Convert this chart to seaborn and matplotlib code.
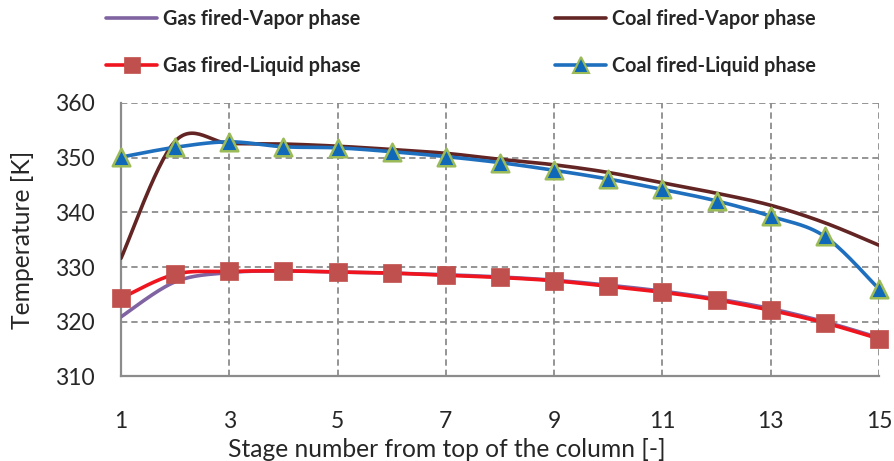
import numpy as np
import pandas as pd
import matplotlib
matplotlib.use("Agg")
import matplotlib.pyplot as plt
from matplotlib.lines import Line2D
import seaborn as sns

# Stage temperature profiles [K]
stages = list(range(1, 16))
gas_vapor = [320.9, 327.3, 329.0, 329.3, 329.1, 328.9, 328.6, 328.2, 327.6, 326.7, 325.6, 324.2, 322.4, 320.0, 317.1]
gas_liquid = [324.3, 328.7, 329.2, 329.3, 329.1, 328.9, 328.5, 328.1, 327.5, 326.5, 325.4, 324.0, 322.1, 319.8, 316.9]
coal_vapor = [331.6, 353.0, 352.6, 352.5, 352.1, 351.5, 350.8, 349.7, 348.7, 347.3, 345.4, 343.5, 341.3, 338.1, 334.0]
coal_liquid = [350.1, 351.9, 352.9, 352.0, 351.8, 351.1, 350.2, 349.1, 347.7, 346.1, 344.2, 342.1, 339.3, 335.6, 326.0]

x_ticks = [1, 3, 5, 7, 9, 11, 13, 15]
y_ticks = [310, 320, 330, 340, 350, 360]

GRID = "#8c8c8c"


def smooth(xs, ys, n=30):
    """Cubic Bezier smoothing through every point (Catmull-Rom style tangents)."""
    xs = np.asarray(xs, float)
    ys = np.asarray(ys, float)
    px = np.concatenate([[xs[0]], xs, [xs[-1]]])
    py = np.concatenate([[ys[0]], ys, [ys[-1]]])
    out_x, out_y = [], []
    t = np.linspace(0, 1, n)
    for i in range(1, len(px) - 2):
        p0 = np.array([px[i], py[i]])
        p3 = np.array([px[i + 1], py[i + 1]])
        c1 = p0 + (np.array([px[i + 1], py[i + 1]]) - np.array([px[i - 1], py[i - 1]])) / 6
        c2 = p3 - (np.array([px[i + 2], py[i + 2]]) - np.array([px[i], py[i]])) / 6
        b = ((1 - t) ** 3)[:, None] * p0 + (3 * (1 - t) ** 2 * t)[:, None] * c1 \
            + (3 * (1 - t) * t ** 2)[:, None] * c2 + (t ** 3)[:, None] * p3
        out_x.extend(b[:, 0])
        out_y.extend(b[:, 1])
    return np.array(out_x), np.array(out_y)


sns.set_style("white")
plt.rcParams["font.family"] = ["Lato", "DejaVu Sans"]

fig = plt.figure(figsize=(8.94, 4.61), dpi=100)
ax = fig.add_axes([0.1353, 0.1833, 0.8479, 0.5933])

series = [
    ("Gas fired-Vapor phase", gas_vapor, "#8064A2", None, None, None),
    ("Coal fired-Vapor phase", coal_vapor, "#632523", None, None, None),
    ("Gas fired-Liquid phase", gas_liquid, "#F0141E", "s", "#C0504D", "#C0504D"),
    ("Coal fired-Liquid phase", coal_liquid, "#1F6FBF", "^", "#1068B8", "#9BBB59"),
]

handles = {}
for name, vals, color, marker, mfc, mec in series:
    sx, sy = smooth(stages, vals)
    df = pd.DataFrame({"x": sx, "y": sy})
    sns.lineplot(data=df, x="x", y="y", ax=ax, color=color, lw=2.6,
                 sort=False, estimator=None, zorder=3)
    if marker is not None:
        pts = pd.DataFrame({"x": stages, "y": vals})
        sns.scatterplot(data=pts, x="x", y="y", ax=ax, marker=marker, s=150 if marker == "s" else 160,
                        color=mfc, edgecolor=mec, linewidth=1.8 if marker == "^" else 0.5,
                        zorder=4, clip_on=False)
    handles[name] = Line2D([], [], color=color, lw=2.6, marker=marker,
                           markersize=11 if marker else 0, markerfacecolor=mfc,
                           markeredgecolor=mec, markeredgewidth=1.5 if marker == "^" else 0.5)

ax.set_xlim(1, 15)
ax.set_ylim(310, 360)
ax.set_xticks(x_ticks)
ax.set_yticks(y_ticks)
ax.grid(True, color=GRID, ls=(0, (3.5, 2.2)), lw=1.3)
for s in ["top", "right"]:
    ax.spines[s].set_visible(False)
for s in ["left", "bottom"]:
    ax.spines[s].set_color(GRID)
    ax.spines[s].set_linewidth(1.6)
ax.tick_params(axis="y", direction="out", length=7, width=1.3, color=GRID, labelsize=16.5, pad=12)
ax.tick_params(axis="x", direction="inout", length=9, width=1.3, color=GRID, labelsize=16.5, pad=20)
ax.set_xlabel("Stage number from top of the column [-]", fontsize=17.7, labelpad=5)
ax.xaxis.label.set_x(0.43)
ax.set_ylabel("Temperature [K]", fontsize=17.7, labelpad=15)

legend_font = {"weight": "bold", "size": 14.2}
for names, x0 in [(["Gas fired-Vapor phase", "Gas fired-Liquid phase"], 0.1096),
                  (["Coal fired-Vapor phase", "Coal fired-Liquid phase"], 0.612)]:
    fig.legend([handles[k] for k in names], names, loc="upper left",
               bbox_to_anchor=(x0, 0.998), frameon=False, prop=legend_font,
               handlelength=2.6, handletextpad=0.3, labelspacing=1.39,
               borderaxespad=0.0)

fig.savefig("out.png", dpi=100)
